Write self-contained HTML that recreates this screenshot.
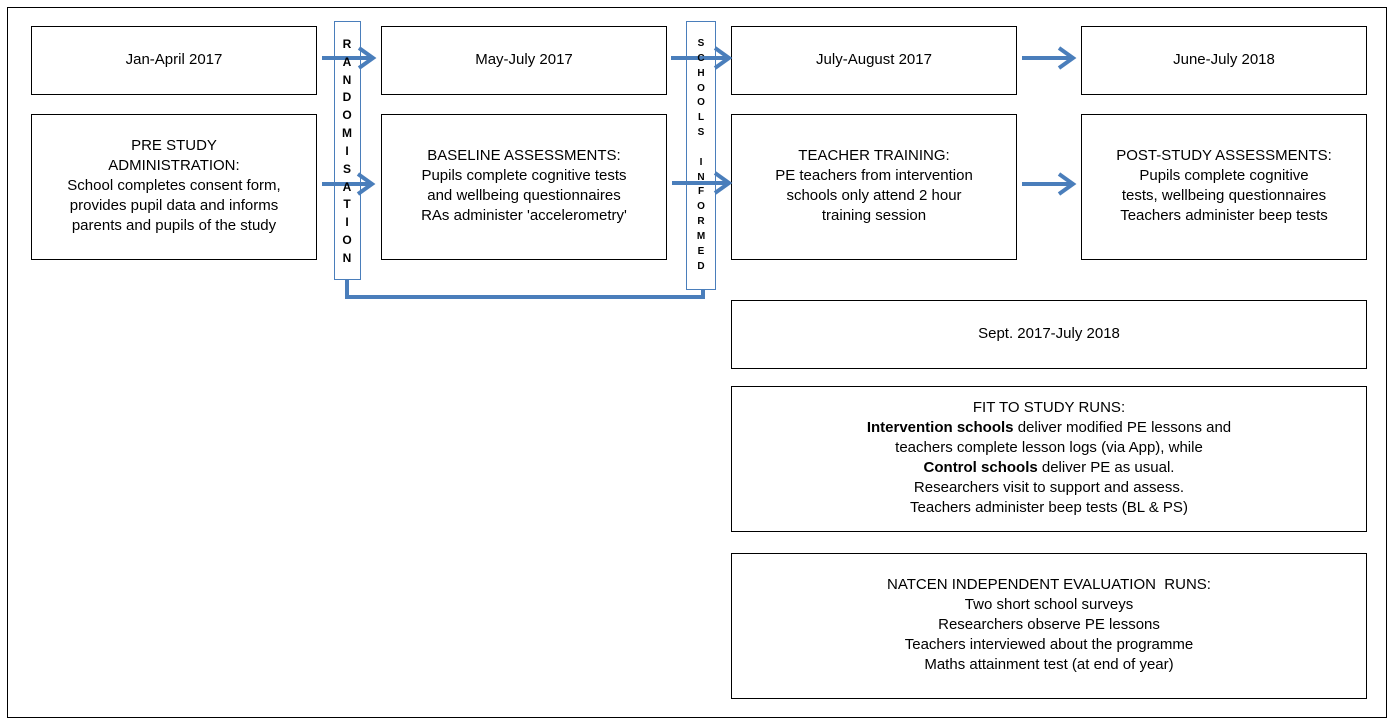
<!DOCTYPE html>
<html><head><meta charset="utf-8"><style>
html,body{margin:0;padding:0;background:#fff;}
body{width:1394px;height:727px;position:relative;overflow:hidden;font-family:"Liberation Sans",Arial,sans-serif;color:#000;}
.b{position:absolute;border:1px solid #000;box-sizing:border-box;display:flex;align-items:center;justify-content:center;text-align:center;font-size:15px;line-height:20px;padding-bottom:2px;}
.v{position:absolute;border:1.5px solid #4a7ebb;box-sizing:border-box;background:#fff;}
.l{position:absolute;font-weight:bold;text-align:center;width:20px;margin-left:-10px;}
svg{position:absolute;left:0;top:0;}
</style></head><body>
<div class="b" style="left:7px;top:7px;width:1380px;height:711px;"></div>

<div class="b" style="left:31px;top:26px;width:286px;height:69px;">Jan-April 2017</div>
<div class="b" style="left:381px;top:26px;width:286px;height:69px;">May-July 2017</div>
<div class="b" style="left:731px;top:26px;width:286px;height:69px;">July-August 2017</div>
<div class="b" style="left:1081px;top:26px;width:286px;height:69px;">June-July 2018</div>

<div class="b" style="left:31px;top:114px;width:286px;height:146px;"><div>PRE STUDY<br>ADMINISTRATION:<br>School completes consent form,<br>provides pupil data and informs<br>parents and pupils of the study</div></div>
<div class="b" style="left:381px;top:114px;width:286px;height:146px;"><div>BASELINE ASSESSMENTS:<br>Pupils complete cognitive tests<br>and wellbeing questionnaires<br>RAs administer 'accelerometry'</div></div>
<div class="b" style="left:731px;top:114px;width:286px;height:146px;"><div>TEACHER TRAINING:<br>PE teachers from intervention<br>schools only attend 2 hour<br>training session</div></div>
<div class="b" style="left:1081px;top:114px;width:286px;height:146px;"><div>POST-STUDY ASSESSMENTS:<br>Pupils complete cognitive<br>tests, wellbeing questionnaires<br>Teachers administer beep tests</div></div>

<div class="b" style="left:731px;top:300px;width:636px;height:69px;">Sept. 2017-July 2018</div>
<div class="b" style="left:731px;top:386px;width:636px;height:146px;"><div>FIT TO STUDY RUNS:<br><b>Intervention schools</b> deliver modified PE lessons and<br>teachers complete lesson logs (via App), while<br><b>Control schools</b> deliver PE as usual.<br>Researchers visit to support and assess.<br>Teachers administer beep tests (BL &amp; PS)</div></div>
<div class="b" style="left:731px;top:553px;width:636px;height:146px;"><div>NATCEN INDEPENDENT EVALUATION&nbsp; RUNS:<br>Two short school surveys<br>Researchers observe PE lessons<br>Teachers interviewed about the programme<br>Maths attainment test (at end of year)</div></div>

<svg width="1394" height="727">
<polyline points="347,279 347,297 703,297 703,289" fill="none" stroke="#4a7ebb" stroke-width="4"/>
</svg>

<div class="v" style="left:334px;top:21px;width:27px;height:259px;"></div>
<div class="v" style="left:686px;top:21px;width:30px;height:269px;"></div>

<svg width="1394" height="727">
<g stroke="#4a7ebb" stroke-width="4" fill="none">
<line x1="322" y1="58" x2="373" y2="58"/><polyline points="359,48 373,58 359,68"/>
<line x1="322" y1="184" x2="372" y2="184"/><polyline points="358,174 372,184 358,194"/>
<line x1="671" y1="58" x2="729" y2="58"/><polyline points="715,48 729,58 715,68"/>
<line x1="672" y1="183" x2="729" y2="183"/><polyline points="715,173 729,183 715,193"/>
<line x1="1022" y1="58" x2="1073" y2="58"/><polyline points="1059,48 1073,58 1059,68"/>
<line x1="1022" y1="184" x2="1073" y2="184"/><polyline points="1059,174 1073,184 1059,194"/>
</g>
</svg>

<div style="position:absolute;left:0;top:0;font-size:12px;line-height:14px;">
<div class="l" style="left:347px;top:37px;">R</div>
<div class="l" style="left:347px;top:55px;">A</div>
<div class="l" style="left:347px;top:73px;">N</div>
<div class="l" style="left:347px;top:90px;">D</div>
<div class="l" style="left:347px;top:108px;">O</div>
<div class="l" style="left:347px;top:126px;">M</div>
<div class="l" style="left:347px;top:144px;">I</div>
<div class="l" style="left:347px;top:162px;">S</div>
<div class="l" style="left:347px;top:180px;">A</div>
<div class="l" style="left:347px;top:197px;">T</div>
<div class="l" style="left:347px;top:215px;">I</div>
<div class="l" style="left:347px;top:233px;">O</div>
<div class="l" style="left:347px;top:251px;">N</div>
</div>
<div style="position:absolute;left:0;top:0;font-size:10px;line-height:12px;">
<div class="l" style="left:701px;top:38px;">S</div>
<div class="l" style="left:701px;top:53px;">C</div>
<div class="l" style="left:701px;top:68px;">H</div>
<div class="l" style="left:701px;top:83px;">O</div>
<div class="l" style="left:701px;top:97px;">O</div>
<div class="l" style="left:701px;top:112px;">L</div>
<div class="l" style="left:701px;top:127px;">S</div>
<div class="l" style="left:701px;top:157px;">I</div>
<div class="l" style="left:701px;top:172px;">N</div>
<div class="l" style="left:701px;top:186px;">F</div>
<div class="l" style="left:701px;top:201px;">O</div>
<div class="l" style="left:701px;top:216px;">R</div>
<div class="l" style="left:701px;top:231px;">M</div>
<div class="l" style="left:701px;top:246px;">E</div>
<div class="l" style="left:701px;top:261px;">D</div>
</div>
</body></html>
